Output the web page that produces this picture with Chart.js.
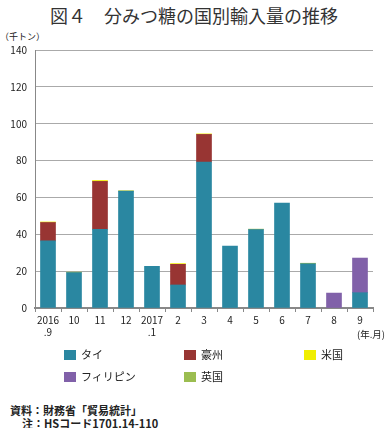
<!DOCTYPE html>
<html>
<head>
<meta charset="utf-8">
<script src="https://cdn.jsdelivr.net/npm/chart.js@4"></script>
<style>
  body { margin: 0; width: 388px; height: 428px; background: #fff; position: relative; overflow: hidden;
         font-family: "Noto Sans CJK JP", sans-serif; color: #222; }
  .abs { position: absolute; white-space: nowrap; }
  #title { left: 0; width: 388px; top: 3px; text-align: center; font-size: 18px; line-height: 24px; color: #333; }
  #unit { left: 0; top: 30px; font-size: 9px; }
  #ym { left: 357px; top: 327px; font-size: 9.5px; }
  #chartBox { position: absolute; left: 0; top: 40px; width: 388px; height: 305px; }
  .lg { position: absolute; font-size: 11px; line-height: 12px; }
  .lg span { display: inline-block; width: 12px; height: 10px; margin-right: 5px; vertical-align: -1px; }
  .note { position: absolute; font-size: 11px; font-weight: bold; line-height: 14px; }
</style>
</head>
<body>
<div id="title" class="abs">図４　分みつ糖の国別輸入量の推移</div>
<div id="unit" class="abs">（千トン）</div>
<div id="chartBox"><canvas id="barChart"></canvas></div>
<div id="ym" class="abs">(年.月)</div>
<div id="legend"></div>
<div class="note" style="left:10px;top:403px;">資料：財務省「貿易統計」</div>
<div class="note" style="left:22px;top:416px;">注：HSコード1701.14-110</div>

<script>
// カテゴリ（年.月）
const months = [['2016', '.9'], '10', '11', '12', ['2017', '.1'], '2', '3', '4', '5', '6', '7', '8', '9'];

// 国別の輸入量（千トン）、輸入なしは null
const thai  = [36.4, 19.2, 42.7, 63.3, 22.6, 12.5, 79.2, 33.6, 42.5, 57.0, 24.0, null, 8.3];
const aus   = [10.0, null, 26.0, null, null, 11.2, 15.0, null, null, null, null, null, null];
const phil  = [null, null, null, null, null, null, null, null, null, null, null, 8.1, 18.8];
const usa   = [0.3, null, 0.5, null, null, 0.4, 0.3, null, null, null, null, null, null];
const uk    = [null, 0.3, null, 0.4, null, null, null, null, 0.3, null, 0.3, null, null];

const yTicks = [0, 20, 40, 60, 80, 100, 120, 140];

// 凡例
const legendItems = [
  { name: 'タイ', color: '#2a87a1', x: 64, y: 348 },
  { name: '豪州', color: '#983533', x: 184, y: 348 },
  { name: '米国', color: '#f0ee00', x: 304, y: 348 },
  { name: 'フィリピン', color: '#8161a9', x: 64, y: 370 },
  { name: '英国', color: '#9bbd50', x: 184, y: 370 }
];
const lg = document.getElementById('legend');
legendItems.forEach(function(it) {
  let d = document.createElement('div');
  d.className = 'lg';
  d.style.left = it.x + 'px';
  d.style.top = it.y + 'px';
  d.innerHTML = '<span style="background:' + it.color + '"></span>' + it.name;
  lg.appendChild(d);
});

const series = [thai, aus, phil, usa, uk];
const order = [0, 1, 3, 2, 4]; // legend index for each series

let ctx = document.getElementById('barChart').getContext('2d');
let myChart = new Chart(ctx, {
  type: 'bar',
  data: {
    labels: months,
    datasets: series.map(function(vals, i) {
      let it = legendItems[order[i]];
      return {
        label: it.name,
        data: vals,
        backgroundColor: it.color,
        borderWidth: 0,
        barThickness: 15
      };
    })
  },
  options: {
    responsive: true,
    maintainAspectRatio: false,
    animation: false,
    layout: { padding: { top: 10, right: 15, left: 0, bottom: 0 } },
    plugins: { legend: { display: false }, tooltip: { enabled: false } },
    scales: {
      x: {
        stacked: true,
        afterFit: function(s) { s.height = 37; },
        grid: { drawOnChartArea: false, color: '#888', tickLength: 4, offset: true },
        border: { color: '#888', width: 2 },
        ticks: { color: '#222', font: { size: 10, family: 'Noto Sans CJK JP' }, padding: 2, maxRotation: 0, autoSkip: false }
      },
      y: {
        stacked: true,
        min: 0,
        max: 140,
        afterBuildTicks: function(s) { s.ticks = yTicks.map(function(v) { return { value: v }; }); },
        afterFit: function(s) { s.width = 35; s.paddingTop = 0; },
        grid: { color: '#aaa', lineWidth: 1, drawTicks: false },
        border: { color: '#888', width: 1 },
        ticks: { color: '#222', font: { size: 10, family: 'Noto Sans CJK JP' }, padding: 8 }
      }
    }
  }
});
</script>
</body>
</html>
